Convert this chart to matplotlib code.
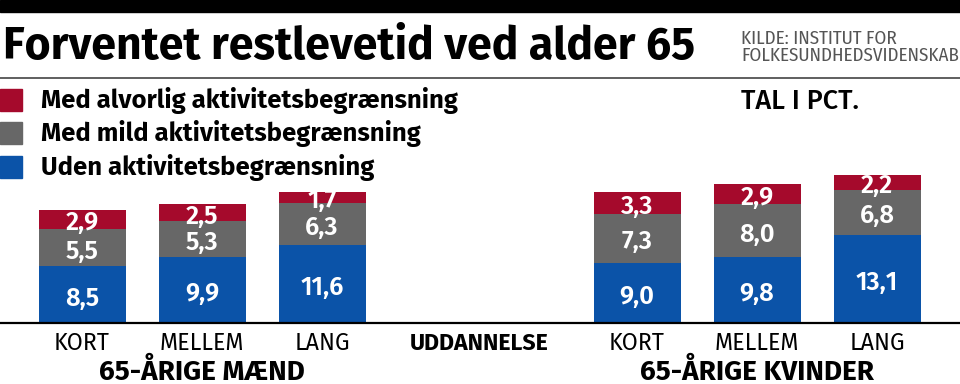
import matplotlib
matplotlib.use("Agg")
import matplotlib.pyplot as plt
from matplotlib.patches import Rectangle

# ---------------- data ----------------
title = "Forventet restlevetid ved alder 65"
source_lines = ["KILDE: INSTITUT FOR", "FOLKESUNDHEDSVIDENSKAB"]
unit_label = "TAL I PCT."
series_names = ["Med alvorlig aktivitetsbegrænsning",
                "Med mild aktivitetsbegrænsning",
                "Uden aktivitetsbegrænsning"]
categories = ["KORT", "MELLEM", "LANG"]
group_names = ["65-ÅRIGE MÆND", "65-ÅRIGE KVINDER"]
middle_label = "UDDANNELSE"

men_uden = [8.5, 9.9, 11.6]
men_mild = [5.5, 5.3, 6.3]
men_alvorlig = [2.9, 2.5, 1.7]
women_uden = [9.0, 9.8, 13.1]
women_mild = [7.3, 8.0, 6.8]
women_alvorlig = [3.3, 2.9, 2.2]

# ---------------- style ----------------
RED = "#A50A2C"
GRAY = "#676767"
BLUE = "#0B53A8"
series_colors = [RED, GRAY, BLUE]
FONT = "Fira Sans"
COND = "Fira Sans Condensed"

W, H = 960, 384
fig = plt.figure(figsize=(W / 100, H / 100), dpi=100)
renderer = fig.canvas.get_renderer()


def fx(x):
    return x / W


def fy(y):
    return 1 - y / H


def fit(texts, target_px):
    """Scale the font size of texts so that the first one is target_px wide."""
    w = texts[0].get_window_extent(renderer).width
    for t in texts:
        t.set_fontsize(t.get_fontsize() * target_px / w)


# top black band and separator line
fig.patches.append(Rectangle((0, fy(12)), 1, 12 / H, transform=fig.transFigure,
                             color="black", zorder=0))
fig.add_artist(plt.Line2D([0, 1], [fy(77.5), fy(77.5)], transform=fig.transFigure,
                          color="#444444", lw=1.2))

# title and source
t_title = fig.text(fx(3), fy(59), title, fontsize=32, fontweight="bold", family=FONT,
                   ha="left", va="baseline", color="black")
fit([t_title], 692)
s1 = fig.text(fx(741), fy(44), source_lines[0], fontsize=13, family=COND,
              ha="left", va="baseline", color="#555555")
s2 = fig.text(fx(741), fy(61), source_lines[1], fontsize=13, family=COND,
              ha="left", va="baseline", color="#555555")
fit([s2, s1], 217)

# legend
leg_y = [100, 133, 167]
leg_texts = []
for name, col, yc in zip(series_names, series_colors, leg_y):
    fig.patches.append(Rectangle((0, fy(yc + 11)), 22 / W, 22 / H,
                                 transform=fig.transFigure, color=col))
    leg_texts.append(fig.text(fx(41), fy(yc + 8), name, fontsize=16.5,
                              fontweight="bold", family=FONT,
                              ha="left", va="baseline", color="black"))
fit(leg_texts, 416)
t_unit = fig.text(fx(741), fy(109), unit_label, fontsize=16.5, fontweight="medium",
                  family=FONT, ha="left", va="baseline", color="black")
fit([t_unit], 118)

# bars
PX_PER_UNIT = 6.7
AX_TOP, AX_BOT = 170, 323
ax = fig.add_axes([0, fy(AX_BOT), 1, (AX_BOT - AX_TOP) / H])
ax.set_xlim(-82 / 120, (W - 82) / 120)
ax.set_ylim(0, (AX_BOT - AX_TOP) / PX_PER_UNIT)
ax.axis("off")

men_x = [0, 1, 2]
women_x = [4.625, 5.625, 6.625]
bar_w = 0.725


def fmt(v):
    return f"{v:.1f}".replace(".", ",")


value_texts = []


def draw_group(xs, uden, mild, alvorlig):
    bottoms = [0] * len(xs)
    for vals, col in [(uden, BLUE), (mild, GRAY), (alvorlig, RED)]:
        ax.bar(xs, vals, bottom=bottoms, width=bar_w, color=col, linewidth=0)
        for x, b, v in zip(xs, bottoms, vals):
            value_texts.append(ax.text(x, b + v / 2 - 11 / PX_PER_UNIT, fmt(v),
                                       color="white", fontsize=16.5,
                                       fontweight="semibold", family=FONT,
                                       ha="center", va="baseline"))
        bottoms = [b + v for b, v in zip(bottoms, vals)]


draw_group(men_x, men_uden, men_mild, men_alvorlig)
draw_group(women_x, women_uden, women_mild, women_alvorlig)
# scale value labels so that the men's "LANG" base label ("11,6") is ~43 px wide
ref_label = value_texts[2]
fit([ref_label] + [t for t in value_texts if t is not ref_label], 43)

ax.axhline(0, color="black", lw=1.6, clip_on=False)


def y_of(px):
    return (AX_BOT - px) / PX_PER_UNIT


tick_texts = []
for xs in (men_x, women_x):
    for x, c in zip(xs, categories):
        tick_texts.append(ax.text(x, y_of(350), c, fontsize=14.5, family=FONT,
                                  ha="center", va="baseline", color="black"))
fit([tick_texts[1]] + tick_texts[:1] + tick_texts[2:], 84)

g1 = ax.text(men_x[1], y_of(380), group_names[0], fontsize=16, fontweight="bold",
             family=FONT, ha="center", va="baseline", color="black")
g2 = ax.text(women_x[1], y_of(380), group_names[1], fontsize=16, fontweight="bold",
             family=FONT, ha="center", va="baseline", color="black")
fit([g1, g2], 206)
um = ax.text((men_x[-1] + women_x[0]) / 2, y_of(350), middle_label, fontsize=14.5,
             fontweight="bold", family=FONT, ha="center", va="baseline", color="black")
fit([um], 138)

fig.savefig("out.png", dpi=100)
